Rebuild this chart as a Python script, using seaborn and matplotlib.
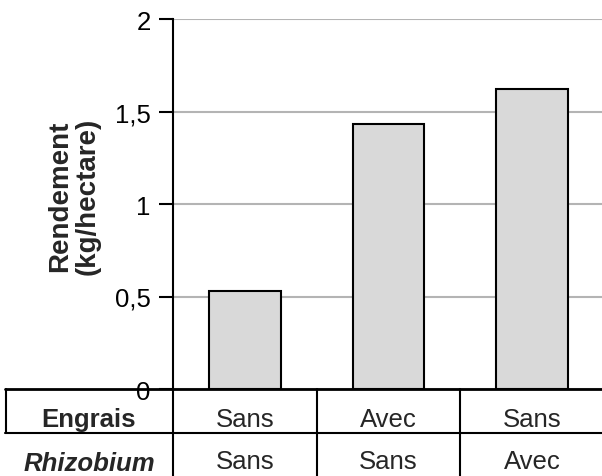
import numpy as np
import pandas as pd
import matplotlib
matplotlib.use('Agg')
import matplotlib.pyplot as plt
import matplotlib.transforms as mtransforms
from matplotlib.lines import Line2D
import seaborn as sns

# données
traitements = ['T1', 'T2', 'T3']
rendement = [0.53, 1.43, 1.62]
engrais = ['Sans', 'Avec', 'Sans']
rhizobium = ['Sans', 'Sans', 'Avec']
yticks = [0, 0.5, 1, 1.5, 2]
ytick_labels = ['0', '0,5', '1', '1,5', '2']

sns.set_style('white')
plt.rcParams['font.family'] = ['Liberation Sans', 'DejaVu Sans']

W, H = 602, 477
fig = plt.figure(figsize=(W / 100, H / 100), dpi=100)
ax_left, ax_right, ax_top, ax_bottom = 173, 604, 20, 390
ax = fig.add_axes([ax_left / W, 1 - ax_bottom / H, (ax_right - ax_left) / W, (ax_bottom - ax_top) / H])

df = pd.DataFrame({'traitement': traitements, 'rendement': rendement})
sns.barplot(data=df, x='traitement', y='rendement', color='#d9d9d9', saturation=1,
            edgecolor='black', linewidth=1.5, width=0.5, ax=ax, zorder=3)

ax.set_xlim(-0.5, 2.5)
ax.set_ylim(0, 2)
ax.set_yticks(yticks)
ax.set_yticklabels(ytick_labels)
ax.set_xticks([])
ax.set_xlabel('')
ax.set_ylabel('')
ax.yaxis.grid(True, color='#b4b4b4', linewidth=1.5, zorder=0)
ax.set_axisbelow(True)
ax.tick_params(axis='y', direction='out', length=10, width=1.5, pad=6, labelsize=18.5, colors='black', left=True)
for s in ['top', 'right', 'bottom']:
    ax.spines[s].set_visible(False)
ax.spines['left'].set_linewidth(1.5)
ax.spines['left'].set_color('black')

fig.text(74 / W, 1 - 196 / H, 'Rendement\n(kg/hectare)', rotation=90, ha='center', va='center',
         multialignment='center', fontsize=20, fontweight='bold', linespacing=1.1)

# tableau sous le graphique
def fy(py):
    return 1 - py / H

def fx(px):
    return px / W

lines = [
    ([5, 602], [390, 390], 2.0),
    ([5, 602], [434, 434], 1.5),
    ([5.5, 5.5], [390, 434], 1.5),
    ([173, 173], [390, 477], 1.5),
]
for i in range(1, len(traitements)):
    xb = ax_left + i * (ax_right - ax_left) / len(traitements)
    lines.append(([xb, xb], [390, 477], 1.5))
for xs, ys, lw in lines:
    fig.add_artist(Line2D([fx(x) for x in xs], [fy(y) for y in ys], color='black', linewidth=lw))

trans = mtransforms.blended_transform_factory(ax.transData, fig.transFigure)
for i in range(len(traitements)):
    ax.text(i, fy(427), engrais[i], transform=trans, ha='center', va='baseline', fontsize=18.5, clip_on=False)
    ax.text(i, fy(469.5), rhizobium[i], transform=trans, ha='center', va='baseline', fontsize=18.5, clip_on=False)

fig.text(fx(88.5), fy(427), 'Engrais', ha='center', va='baseline', fontsize=18.5, fontweight='bold')
fig.text(fx(89.5), fy(471.5), 'Rhizobium', ha='center', va='baseline', fontsize=18.5, fontweight='bold', style='italic')

fig.savefig('out.png', dpi=100)
